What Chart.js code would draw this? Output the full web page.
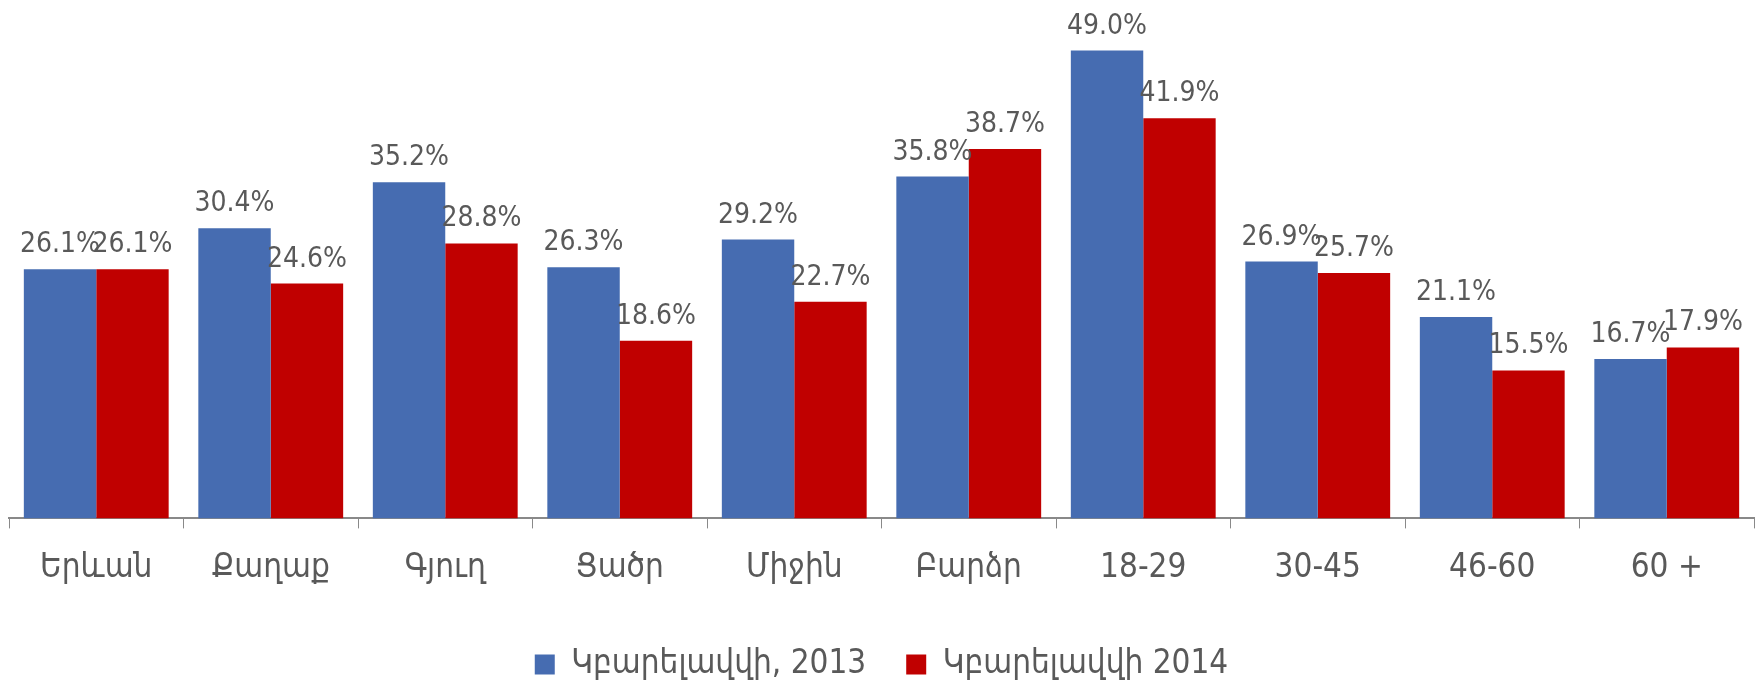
<!DOCTYPE html>
<html>
<head>
<meta charset="utf-8">
<script src="https://cdn.jsdelivr.net/npm/chart.js@4"></script>
<style>
  html, body { margin: 0; padding: 0; background: #fff; }
  #wrap { width: 1763px; height: 685px; }
</style>
</head>
<body>
<div id="wrap"><canvas id="chart" width="1763" height="685"></canvas></div>
<script>
// chart data
const categories = ['Երևան', 'Քաղաք', 'Գյուղ', 'Ցածր', 'Միջին', 'Բարձր', '18-29', '30-45', '46-60', '60 +'];
const values2013 = [26.1, 30.4, 35.2, 26.3, 29.2, 35.8, 49.0, 26.9, 21.1, 16.7];
const values2014 = [26.1, 24.6, 28.8, 18.6, 22.7, 38.7, 41.9, 25.7, 15.5, 17.9];
const seriesNames = ['Կբարելավվի, 2013', 'Կբարելավվի 2014'];

const textColor = '#595959';
const fontFamily = '"DejaVu Sans Condensed", "DejaVu Sans", sans-serif';

// draws the value labels above each bar
const valueLabels = {
  id: 'valueLabels',
  afterDatasetsDraw(chart) {
    const ctx = chart.ctx;
    ctx.save();
    ctx.fillStyle = textColor;
    ctx.font = '28px ' + fontFamily;
    ctx.textAlign = 'center';
    ctx.textBaseline = 'alphabetic';
    chart.data.datasets.forEach((ds, i) => {
      const meta = chart.getDatasetMeta(i);
      meta.data.forEach((bar, j) => {
        ctx.fillText(ds.data[j].toFixed(1) + '%', bar.x, bar.y - 17);
      });
    });
    ctx.restore();
  }
};

const ctx = document.getElementById('chart').getContext('2d');
new Chart(ctx, {
  type: 'bar',
  data: {
    labels: categories,
    datasets: [
      { label: seriesNames[0], data: values2013, backgroundColor: '#466cb1' },
      { label: seriesNames[1], data: values2014, backgroundColor: '#c00000' }
    ]
  },
  options: {
    responsive: false,
    animation: false,
    devicePixelRatio: 1,
    categoryPercentage: 0.83,
    barPercentage: 1.0,
    layout: { padding: { top: 41, left: 9, right: 9, bottom: -6 } },
    plugins: {
      legend: {
        position: 'bottom',
        labels: {
          color: textColor,
          font: { family: fontFamily, size: 33, lineHeight: 1 },
          boxWidth: 20,
          boxHeight: 20,
          padding: 40
        }
      },
      tooltip: { enabled: false }
    },
    scales: {
      x: {
        grid: { display: true, drawOnChartArea: false, offset: true, tickLength: 10, color: '#898989' },
        border: { display: true, color: '#898989', width: 2 },
        ticks: { color: textColor, font: { family: fontFamily, size: 33 }, padding: 20 }
      },
      y: {
        display: false,
        min: 0,
        max: 50
      }
    }
  },
  plugins: [valueLabels]
});
</script>
</body>
</html>
